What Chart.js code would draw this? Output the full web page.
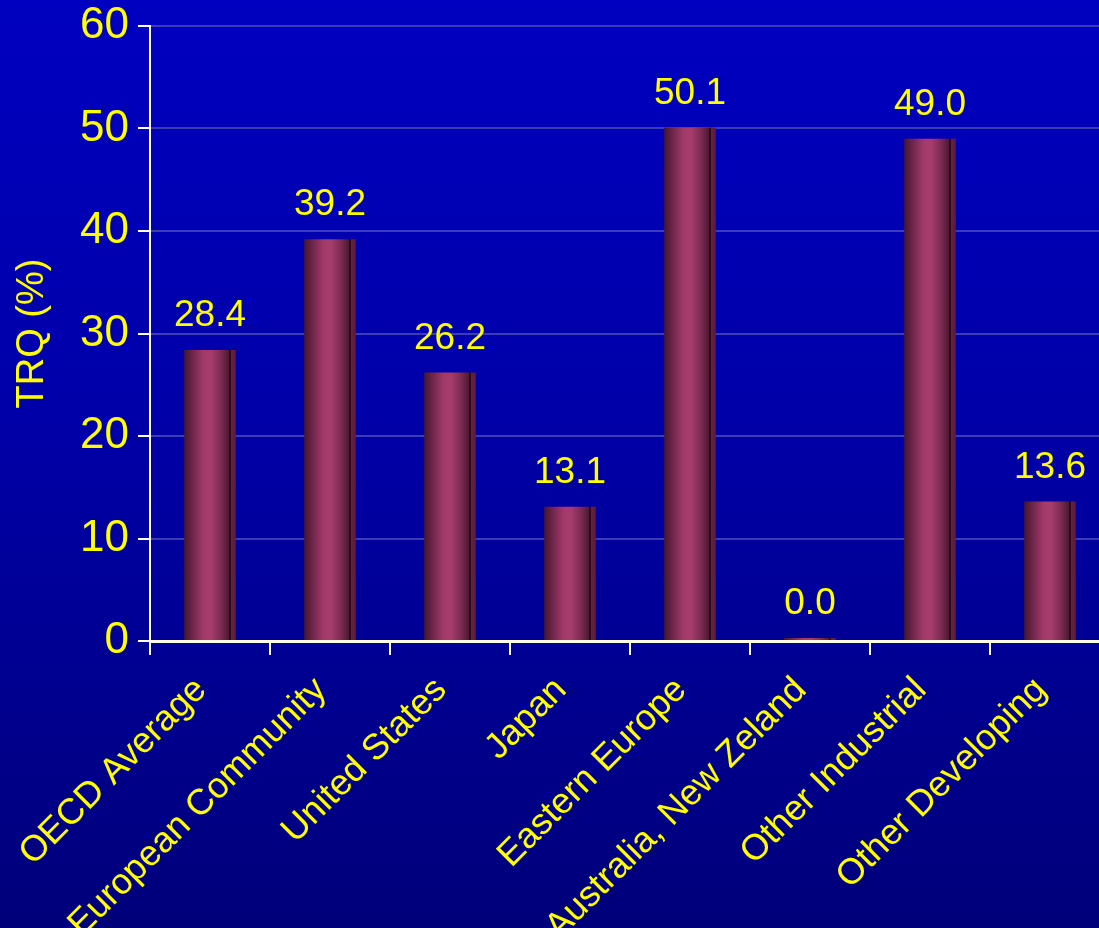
<!DOCTYPE html>
<html>
<head>
<meta charset="utf-8">
<script src="https://cdn.jsdelivr.net/npm/chart.js@4/dist/chart.umd.min.js"></script>
<style>
  html, body { margin: 0; padding: 0; overflow: hidden; }
  body {
    width: 1099px; height: 928px;
    background: linear-gradient(to bottom, #0000c0 0%, #0000a8 45%, #00007a 100%);
  }
  #chart { display: block; }
</style>
</head>
<body>
<canvas id="chart" width="1111" height="928"></canvas>
<script>
// TRQ fill rates by region
var regions = ['OECD Average', 'European Community', 'United States', 'Japan',
               'Eastern Europe', 'Australia, New Zeland', 'Other Industrial', 'Other Developing'];
var trqFill = [28.4, 39.2, 26.2, 13.1, 50.1, 0.0, 49.0, 13.6];
var yTicks = [0, 10, 20, 30, 40, 50, 60];

var yellow = '#ffff00';
var fontFamily = '"Liberation Sans", Arial, sans-serif';

// shaded cylinder look, left to right across each bar
function barShade(context) {
  var chart = context.chart;
  var xs = chart.scales.x;
  if (!xs || context.dataIndex === undefined) return '#a03a6a';
  var cx = xs.getPixelForValue(context.dataIndex);
  if (!isFinite(cx)) return '#a03a6a';
  var half = 26;
  var g = chart.ctx.createLinearGradient(cx - half, 0, cx + half, 0);
  g.addColorStop(0.00, '#43162c');
  g.addColorStop(0.15, '#6a2448');
  g.addColorStop(0.38, '#a23a6a');
  g.addColorStop(0.52, '#a53c6c');
  g.addColorStop(0.72, '#7a2a50');
  g.addColorStop(0.86, '#4e1a34');
  g.addColorStop(0.87, '#2e0c1c');
  g.addColorStop(0.90, '#2e0c1c');
  g.addColorStop(0.91, '#66203e');
  g.addColorStop(1.00, '#5a1c36');
  return g;
}

// values written above the bars
var valueLabels = {
  id: 'valueLabels',
  afterDatasetsDraw: function (chart) {
    var ctx = chart.ctx;
    var meta = chart.getDatasetMeta(0);
    ctx.save();
    ctx.fillStyle = yellow;
    ctx.font = '37px ' + fontFamily;
    ctx.textAlign = 'center';
    ctx.textBaseline = 'middle';
    meta.data.forEach(function (bar, i) {
      ctx.fillText(trqFill[i].toFixed(1), bar.x, bar.y - 34);
    });
    ctx.restore();
  }
};

var ctx = document.getElementById('chart').getContext('2d');
new Chart(ctx, {
  type: 'bar',
  data: {
    labels: regions,
    datasets: [{
      data: trqFill,
      backgroundColor: barShade,
      borderWidth: 0,
      minBarLength: 3,
      categoryPercentage: 1.0,
      barPercentage: 0.43
    }]
  },
  options: {
    responsive: false,
    animation: false,
    devicePixelRatio: 1,
    layout: { padding: { top: 26, right: 1, left: 0, bottom: 0 } },
    plugins: {
      legend: { display: false },
      tooltip: { enabled: false }
    },
    scales: {
      x: {
        grid: {
          offset: true,
          drawOnChartArea: false,
          color: '#ffffff',
          tickColor: '#ffffff',
          tickLength: 14,
          lineWidth: 2
        },
        border: { color: '#fffde0', width: 3 },
        ticks: {
          color: yellow,
          font: { size: 36, family: fontFamily },
          minRotation: 45,
          maxRotation: 45,
          autoSkip: false,
          labelOffset: -9,
          padding: 14
        },
        afterFit: function (scale) { scale.height = 287; }
      },
      y: {
        min: 0,
        max: 60,
        afterBuildTicks: function (scale) {
          scale.ticks = yTicks.map(function (v) { return { value: v }; });
        },
        grid: {
          color: '#3c3cb4',
          tickColor: '#ffffff',
          lineWidth: 2,
          tickLength: 12
        },
        border: { color: '#ffffff', width: 2 },
        ticks: {
          color: yellow,
          font: { size: 44, family: fontFamily },
          padding: 9
        },
        title: {
          display: true,
          text: 'TRQ (%)',
          color: yellow,
          font: { size: 38, family: fontFamily },
          padding: { top: 10, bottom: 10 }
        },
        afterFit: function (scale) {
          scale.width = 150;
          scale.paddingTop = 0;
        }
      }
    }
  },
  plugins: [valueLabels]
});
</script>
</body>
</html>
